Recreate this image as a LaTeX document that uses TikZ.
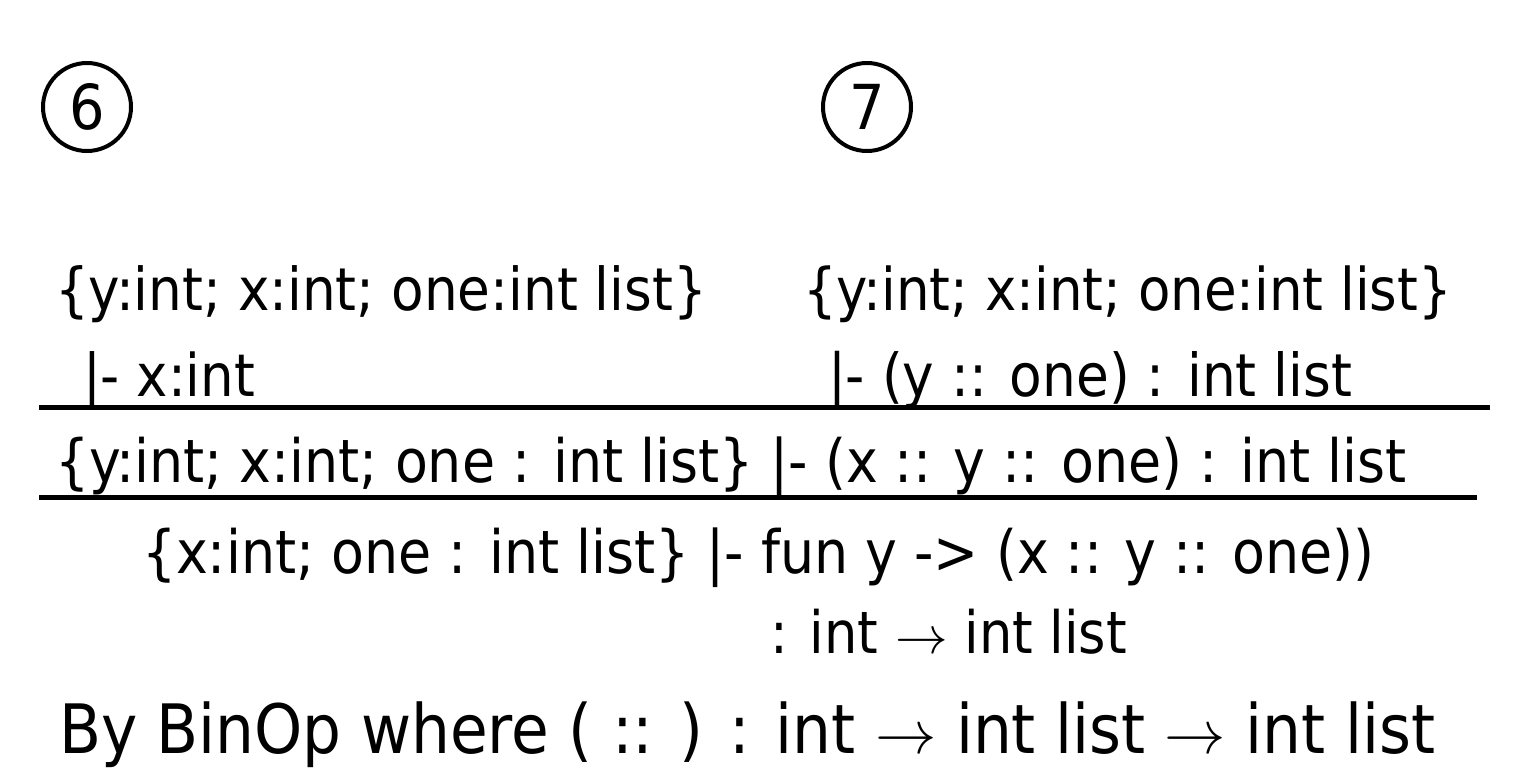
\documentclass[tikz,border=0pt]{standalone}
\usepackage{fontspec}
\setmainfont{DejaVu Sans Condensed}
% a thin arrow, drawn from the math font and scaled to the text size
\newcommand\tarrow{\resizebox{0.9em}{!}{\fontsize{20}{20}\selectfont$\rightarrow$}}
% Lines of the derivation
\newcommand\ctxA{\{y:int; x:int; one:int list\}}
\newcommand\goalA{|- x:int}
\newcommand\goalB{|- (y :: one) : int list}
\newcommand\midline{\{y:int; x:int; one : int list\} |- (x :: y :: one) : int list}
\newcommand\lowline{\{x:int; one : int list\} |- fun y -> (x :: y :: one))}
\newcommand\typeline{: int \tarrow{} int list}
\newcommand\ruleline{By BinOp where ( :: ) : int \tarrow{} int list \tarrow{} int list}
\newcommand\bodyfont{\fontsize{62}{62}\selectfont}
% set a line of text to a given width (in pt)
\newcommand\fitline[2]{\resizebox{#1pt}{!}{\bodyfont #2}}
\begin{document}
\begin{tikzpicture}[x=1pt,y=-1pt,
  txt/.style={anchor=base west,inner sep=0pt,outer sep=0pt,text=black},
  numcircle/.style={circle,draw=black,line width=4pt,minimum size=88pt,inner sep=0pt,font=\bodyfont},
  infer/.style={draw=black,line width=5pt}]
  \useasboundingbox[fill=white] (0,0) rectangle (1529,780);

  % step numbers
  \node[numcircle] (six) at (87,107) {6};
  \node[numcircle] (seven) at (867,107) {7};

  % premises
  \node[txt] (ctxl) at (55,310) {\fitline{652}{\ctxA}};
  \node[txt] (ctxr) at (803,310) {\fitline{649}{\ctxA}};
  \node[txt] (goall) at (83,396) {\fitline{172}{\goalA}};
  \node[txt] (goalr) at (828,396) {\fitline{524}{\goalB}};

  % first inference bar
  \coordinate (barAl) at (39,407);
  \coordinate (barAr) at (1490,407);
  \draw[infer] (barAl) -- (barAr);

  \node[txt] (mid) at (55,482) {\fitline{1352}{\midline}};

  % second inference bar
  \coordinate (barBl) at (39,497);
  \coordinate (barBr) at (1477,497);
  \draw[infer] (barBl) -- (barBr);

  % conclusion
  \node[txt] (low) at (142,573) {\fitline{1233}{\lowline}};
  \node[txt] (typ) at (770,653) {\fitline{357}{\typeline}};
  \node[txt] (rule) at (59,753) {\fitline{1376}{\ruleline}};
\end{tikzpicture}
\end{document}
